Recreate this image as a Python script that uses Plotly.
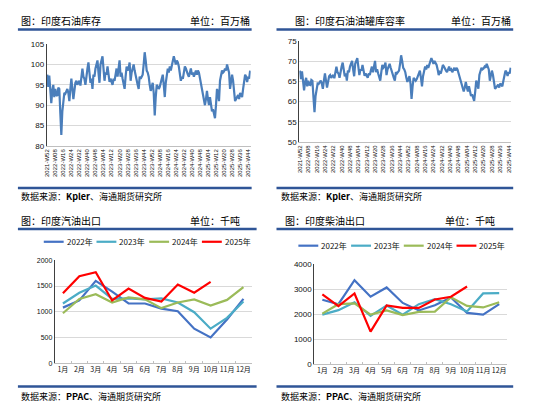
import plotly.graph_objects as go

# weekly inventory, million barrels (2021-W52 .. 2025-W46)
stock = [
    97.5, 94.5, 97.3, 93.0, 90.5, 93.5, 95.0, 92.0, 94.0, 92.5,
    92.3, 94.3, 94.0, 88.0, 82.7, 88.5, 92.0, 93.0, 92.8, 93.5,
    94.0, 93.0, 91.0, 94.0, 96.5, 94.0, 91.5, 93.5, 95.5, 96.0,
    95.0, 95.5, 96.0, 94.8, 96.5, 99.0, 97.0, 96.5, 95.0, 97.5,
    99.0, 100.5, 97.0, 95.5, 96.5, 94.0, 97.5, 97.0, 99.0, 100.0,
    101.0, 98.0, 95.5, 100.0, 101.0, 102.0, 99.0, 96.0, 98.0, 97.5,
    99.5, 98.0, 95.7, 96.5, 95.5, 95.0, 96.5, 96.0, 97.5, 99.0,
    97.0, 99.5, 101.0, 97.0, 98.0, 96.5, 95.5, 94.0, 97.0, 99.5,
    98.5, 99.0, 100.5, 96.0, 98.0, 99.5, 100.0, 98.5, 97.0, 96.0,
    95.0, 94.0, 97.0, 96.5, 97.0, 97.5, 100.0, 103.0, 101.0, 98.5,
    98.0, 97.0, 95.0, 93.5, 94.5, 95.5, 93.0, 87.5, 92.0, 95.0,
    94.5, 94.0, 94.5, 95.5, 96.5, 97.5, 95.0, 92.0, 95.5, 97.0,
    99.0, 98.0, 99.5, 98.5, 100.0, 101.0, 102.0, 101.0, 100.0, 101.0,
    100.5, 99.5, 98.0, 96.0, 97.0, 96.5, 98.0, 99.5, 99.0, 98.0,
    97.5, 97.0, 98.0, 99.0, 97.5, 98.0, 97.0, 98.0, 98.5, 97.5,
    98.5, 98.0, 96.5, 95.0, 94.0, 92.0, 91.0, 90.0, 91.5, 93.5,
    91.5, 90.0, 92.0, 90.5, 88.5, 89.0, 88.0, 86.8, 90.0, 94.0,
    93.0, 91.0, 96.0, 97.0, 98.5, 98.0, 98.3, 99.0, 98.5, 100.0,
    99.0, 98.0, 94.0, 96.0, 97.5, 96.0, 93.5, 91.0, 91.5, 92.0,
    92.5, 91.5, 93.0, 92.5, 92.0, 94.0, 96.5, 97.5, 97.0, 95.7,
    97.0, 96.5, 98.5,
]

# weekly tank utilisation, %
util = [
    67.7, 65.6, 67.5, 64.5, 62.8, 64.9, 65.9, 63.8, 65.2, 64.2,
    64.1, 65.4, 65.2, 61.1, 57.4, 61.4, 63.8, 64.5, 64.4, 64.9,
    65.2, 64.5, 63.2, 65.2, 67.0, 65.2, 63.5, 64.9, 66.3, 66.6,
    65.9, 66.3, 66.6, 65.8, 67.0, 68.7, 67.3, 67.0, 65.9, 67.7,
    68.7, 69.7, 67.3, 66.3, 67.0, 65.2, 67.7, 67.3, 68.7, 69.4,
    70.1, 68.0, 66.3, 69.4, 70.1, 70.8, 68.7, 66.6, 68.0, 67.7,
    69.1, 68.0, 66.4, 67.0, 66.3, 65.9, 67.0, 66.6, 67.7, 68.7,
    67.3, 69.1, 70.1, 67.3, 68.0, 67.0, 66.3, 65.2, 67.3, 69.1,
    68.4, 68.7, 69.7, 66.6, 68.0, 69.1, 69.4, 68.4, 67.3, 66.6,
    65.9, 65.2, 67.3, 67.0, 67.3, 67.7, 69.4, 71.5, 70.1, 68.4,
    68.0, 67.3, 65.9, 64.9, 65.6, 66.3, 64.5, 60.7, 63.8, 65.9,
    65.6, 65.2, 65.6, 66.3, 67.0, 67.7, 65.9, 63.8, 66.3, 67.3,
    68.7, 68.0, 69.1, 68.4, 69.4, 70.1, 70.8, 70.1, 69.4, 70.1,
    69.7, 69.1, 68.0, 66.6, 67.3, 67.0, 68.0, 69.1, 68.7, 68.0,
    67.7, 67.3, 68.0, 68.7, 67.7, 68.0, 67.3, 68.0, 68.4, 67.7,
    68.4, 68.0, 67.0, 65.9, 65.2, 63.8, 63.2, 62.5, 63.5, 64.9,
    63.5, 62.5, 63.8, 62.8, 61.4, 61.8, 61.1, 60.2, 62.5, 65.2,
    64.5, 63.2, 66.6, 67.3, 68.4, 68.0, 68.2, 68.7, 68.4, 69.4,
    68.7, 68.0, 65.2, 66.6, 67.7, 66.6, 64.9, 63.2, 63.5, 63.8,
    64.2, 63.5, 64.5, 64.2, 63.8, 65.2, 67.0, 67.7, 67.3, 66.4,
    67.3, 67.0, 68.4,
]

# week labels
weeks = ["2021-W52"]
for yr, n in [(2022, 52), (2023, 52), (2024, 52), (2025, 46)]:
    for w in range(1, n + 1):
        weeks.append(f"{yr}-W{w:02d}")

months = [f"{m}月" for m in range(1, 13)]
years = ["2022年", "2023年", "2024年", "2025年"]
colors = ["#4472C4", "#4BACC6", "#9BBB59", "#FF0000"]

# monthly exports, thousand tonnes
gasoline = [
    [1080, 1220, 1600, 1390, 1160, 1160, 1060, 1010, 670, 500, 850, 1250],
    [1160, 1370, 1510, 1250, 1260, 1240, 1260, 1180, 990, 670, 880, 1200],
    [970, 1250, 1340, 1180, 1280, 1240, 1070, 1180, 1240, 1120, 1230, 1480],
    [1360, 1690, 1770, 1220, 1450, 1270, 1200, 1530, 1370, 1580],
]
diesel = [
    [2580, 2400, 3360, 2700, 3070, 2450, 2150, 2360, 2670, 2050, 1980, 2400],
    [1980, 2160, 2480, 1930, 2350, 1980, 2400, 2600, 2400, 2110, 2830, 2840],
    [2020, 2400, 2430, 1980, 2150, 1960, 2090, 2100, 2680, 2330, 2270, 2480],
    [2790, 2320, 2830, 1300, 2350, 2250, 2250, 2590, 2700, 3110],
]

W, H = 550, 418
CJK = "Noto Sans CJK SC"
ARIAL = "Liberation Sans, Arial"
RULE = "#2F5597"
LINE = "#4A7EBB"


def px(x):
    return x / W


def py(y):
    return 1 - y / H


fig = go.Figure()

# top charts
fig.add_trace(go.Scatter(x=weeks, y=stock, mode="lines", line=dict(color=LINE, width=2.2),
                         showlegend=False, xaxis="x", yaxis="y"))
fig.add_trace(go.Scatter(x=weeks, y=util, mode="lines", line=dict(color=LINE, width=2.2),
                         showlegend=False, xaxis="x2", yaxis="y2"))

# bottom charts
for i, yname in enumerate(years):
    fig.add_trace(go.Scatter(x=months[:len(gasoline[i])], y=gasoline[i], mode="lines", name=yname,
                             line=dict(color=colors[i], width=2.2), xaxis="x3", yaxis="y3",
                             showlegend=False))
    fig.add_trace(go.Scatter(x=months[:len(diesel[i])], y=diesel[i], mode="lines", name=yname,
                             line=dict(color=colors[i], width=2.2), xaxis="x4", yaxis="y4",
                             showlegend=False))

tickweeks = weeks[::8]
wk_axis = dict(type="category", categoryorder="array", categoryarray=weeks,
               tickmode="array", tickvals=tickweeks, ticktext=tickweeks,
               tickangle=-90, tickfont=dict(family=ARIAL, size=6, color="#111"),
               showgrid=False, showline=True, linecolor="#bfbfbf", ticks="",
               range=[-0.5, len(weeks) - 0.5], zeroline=False)
mo_axis = dict(type="category", categoryorder="array", categoryarray=months,
               tickangle=0, tickfont=dict(family=CJK, size=7, color="#111"),
               showgrid=False, showline=True, linecolor="#bfbfbf",
               ticks="inside", ticklen=2, tickcolor="#bfbfbf", tickson="boundaries",
               range=[-0.5, 11.5])
y_common = dict(showgrid=True, gridcolor="#d9d9d9", gridwidth=1, showline=True,
                linecolor="#404040", ticks="", zeroline=False)

fig.update_layout(
    width=W, height=H, margin=dict(l=0, r=0, t=0, b=0),
    paper_bgcolor="white", plot_bgcolor="white", showlegend=False,
    xaxis=dict(domain=[px(44), px(249)], anchor="y", **wk_axis),
    yaxis=dict(domain=[py(145), py(41)], anchor="x", range=[80, 105], dtick=5,
               tickfont=dict(family=ARIAL, size=8, color="#111"), **y_common),
    xaxis2=dict(domain=[px(298), px(511)], anchor="y2", **wk_axis),
    yaxis2=dict(domain=[py(141), py(38)], anchor="x2", range=[50, 75], dtick=5,
                tickfont=dict(family=ARIAL, size=8, color="#111"), **y_common),
    xaxis3=dict(domain=[px(52), px(250)], anchor="y3", **mo_axis),
    yaxis3=dict(domain=[py(367), py(262)], anchor="x3", range=[0, 2000], dtick=500,
                tickfont=dict(family=ARIAL, size=7, color="#111"), **y_common),
    xaxis4=dict(domain=[px(313), px(507)], anchor="y4", **mo_axis),
    yaxis4=dict(domain=[py(368), py(266)], anchor="x4", range=[0, 4000], dtick=1000,
                tickfont=dict(family=ARIAL, size=8, color="#111"), **y_common),
)

# panel rules
shapes = []
for x0, x1, ys in [(15, 250, (26, 188)), (275, 513, (26, 188)),
                   (15, 255, (230, 391)), (275, 513, (230, 391))]:
    for y in ys:
        shapes.append(dict(type="line", xref="paper", yref="paper",
                           x0=px(x0), x1=px(x1), y0=py(y), y1=py(y),
                           line=dict(color=RULE, width=2.5)))

# legends for the two monthly charts (line key + label)
for lx, ly in [(41, 243), (297, 247)]:
    for i, yname in enumerate(years):
        x0 = lx + i * 53
        shapes.append(dict(type="line", xref="paper", yref="paper",
                           x0=px(x0), x1=px(x0 + 20), y0=py(ly), y1=py(ly),
                           line=dict(color=colors[i], width=2.2)))
        fig.add_annotation(text=yname, x=px(x0 + 21), y=py(ly), xref="paper", yref="paper",
                           xanchor="left", yanchor="middle", showarrow=False,
                           font=dict(family=CJK, size=8, color="#111"))
fig.update_layout(shapes=shapes)

TITLE = dict(family=CJK, size=10, color="#000")
texts = [
    ("图：印度石油库存", 16, 17, "left"),
    ("单位：百万桶", 250, 17, "right"),
    ("图：印度石油油罐库容率", 292, 17, "left"),
    ("单位：百万桶", 513, 17, "right"),
    ("图：印度汽油出口", 16, 221, "left"),
    ("单位：千吨", 240, 221, "right"),
    ("图：印度柴油出口", 282, 221, "left"),
    ("单位：千吨", 497, 221, "right"),
]
for t, x, y, anc in texts:
    fig.add_annotation(text=t, x=px(x), y=py(y), xref="paper", yref="paper",
                       xanchor=anc, yanchor="middle", showarrow=False, font=TITLE)

sources = [
    ("数据来源：<b>Kpler</b>、海通期货研究所", 16, 197),
    ("数据来源：<b>Kpler</b>、海通期货研究所", 278, 197),
    ("数据来源：<b>PPAC</b>、海通期货研究所", 16, 401),
    ("数据来源：<b>PPAC</b>、海通期货研究所", 278, 401),
]
for t, x, y in sources:
    fig.add_annotation(text=t, x=px(x), y=py(y), xref="paper", yref="paper",
                       xanchor="left", yanchor="middle", showarrow=False,
                       font=dict(family=CJK, size=9, color="#000"))

# page body has a default 8px margin; drop it so the figure fills the window
fig.write_html("out.html", config={"displayModeBar": False},
               post_script="document.body.style.margin='0px';")
